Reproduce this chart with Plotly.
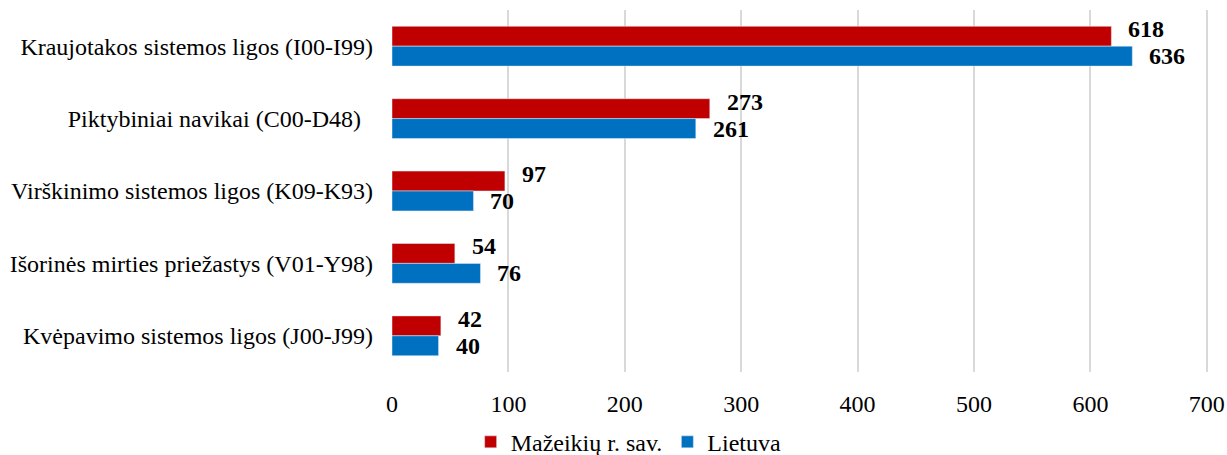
import plotly.graph_objects as go

# Categories, top to bottom
categories = [
    "Kraujotakos sistemos ligos (I00-I99)",
    "Piktybiniai navikai (C00-D48)  ",
    "Virškinimo sistemos ligos (K09-K93)",
    "Išorinės mirties priežastys (V01-Y98)",
    "Kvėpavimo sistemos ligos (J00-J99)",
]

# Series values
mazeikiai = [618, 273, 97, 54, 42]
lietuva = [636, 261, 70, 76, 40]

x_ticks = [0, 100, 200, 300, 400, 500, 600, 700]

font_family = "Liberation Serif, Times New Roman, serif"

fig = go.Figure()

fig.add_trace(go.Bar(
    y=categories,
    x=mazeikiai,
    name="Mažeikių r. sav.",
    orientation="h",
    marker_color="#C00000",
))

fig.add_trace(go.Bar(
    y=categories,
    x=lietuva,
    name="Lietuva",
    orientation="h",
    marker_color="#0070C0",
))

# Value labels: red slightly raised above its bar, blue centred on its bar
for cat, val in zip(categories, mazeikiai):
    fig.add_annotation(
        x=val, y=cat, text=str(val), showarrow=False,
        xanchor="left", yanchor="middle", xshift=15, yshift=17,
        font=dict(size=24, color="black", family=font_family, weight="bold"),
    )
for cat, val in zip(categories, lietuva):
    fig.add_annotation(
        x=val, y=cat, text=str(val), showarrow=False,
        xanchor="left", yanchor="middle", xshift=15, yshift=-10,
        font=dict(size=24, color="black", family=font_family, weight="bold"),
    )

fig.update_layout(
    width=1227,
    height=455,
    barmode="group",
    bargap=0.45,
    bargroupgap=0,
    plot_bgcolor="white",
    paper_bgcolor="white",
    font=dict(family=font_family, size=24, color="black"),
    margin=dict(l=392, r=19, t=10, b=83),
    legend=dict(
        orientation="h",
        x=0.29,
        xanchor="center",
        yref="container",
        y=0.028,
        yanchor="middle",
        font=dict(size=24),
        itemwidth=30,
        bgcolor="rgba(0,0,0,0)",
    ),
)

fig.update_xaxes(
    range=[0, 701],
    tickvals=x_ticks,
    showgrid=True,
    gridcolor="#D9D9D9",
    gridwidth=1.5,
    zeroline=False,
    showline=False,
    ticks="",
    automargin=False,
    ticklabelstandoff=15,
    ticklabeloverflow="allow",
)

fig.update_yaxes(
    autorange="reversed",
    showgrid=False,
    showline=False,
    ticks="",
    ticksuffix=" ",
    ticklabelstandoff=12,
    automargin=False,
)

# drop the page's default body margin so the figure sits at the window's corner
fig.write_html(
    "out.html",
    config={"displayModeBar": False},
    post_script="document.body.style.margin = '0';",
)
